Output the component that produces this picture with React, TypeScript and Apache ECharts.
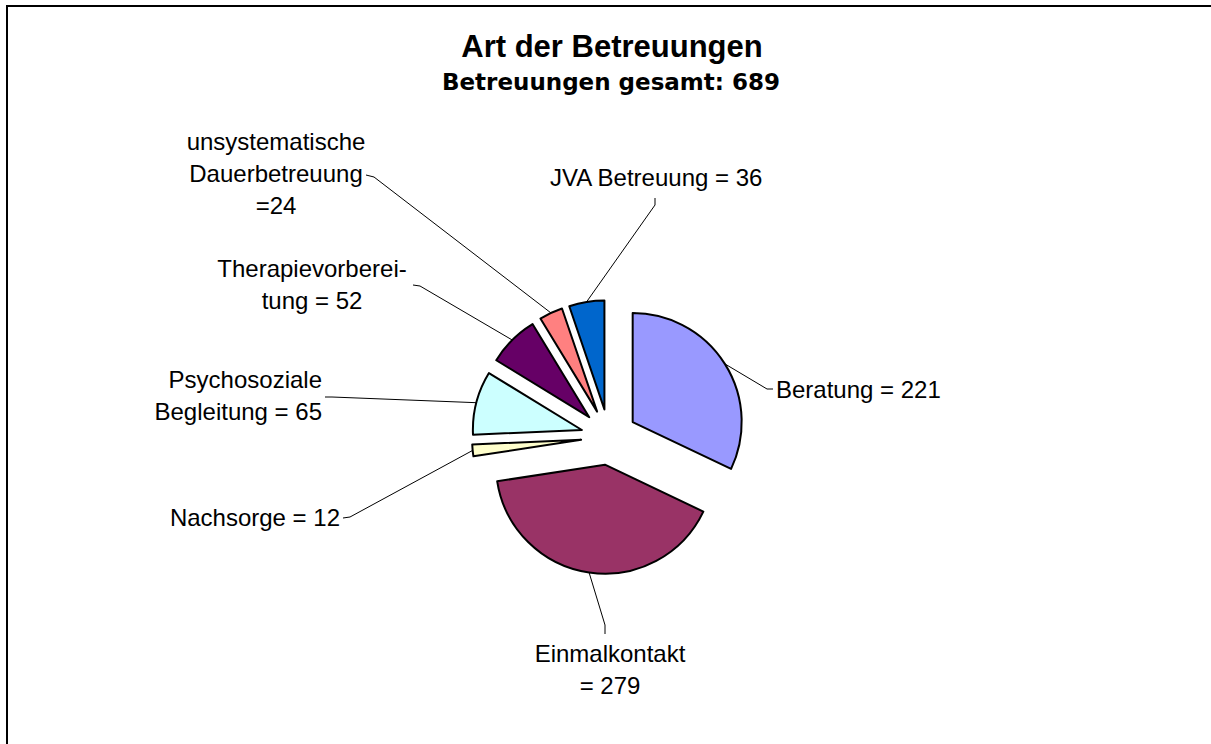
import React, { useEffect, useRef } from "react";
import * as echarts from "echarts";

const categories = [
  "Beratung",
  "Einmalkontakt",
  "Nachsorge",
  "Psychosoziale Begleitung",
  "Therapievorbereitung",
  "unsystematische Dauerbetreuung",
  "JVA Betreuung",
];
const values = [221, 279, 12, 65, 52, 24, 36];
const labelTexts = [
  "Beratung = 221",
  "Einmalkontakt\n= 279",
  "Nachsorge = 12",
  "Psychosoziale\nBegleitung = 65",
  "Therapievorberei-\ntung = 52",
  "unsystematische\nDauerbetreuung\n=24",
  "JVA Betreuung = 36",
];
const colors = ["#9999FF", "#993366", "#FFFFCC", "#CCFFFF", "#660066", "#FF8080", "#0066CC"];
const titleText = "Art der Betreuungen";
const subtitleText = "Betreuungen gesamt: 689";

// layout
const CX = 609;
const CY = 437;
const RADIUS = 109;
const OFFSET = 28;
type Spot = { x: number; y: number; align: string; elbow: number[]; end: number[] };
const labelSpots: Spot[] = [
  { x: 776, y: 389, align: "left", elbow: [767, 389], end: [773, 389] },
  { x: 610, y: 669, align: "center", elbow: [605, 625], end: [605, 634] },
  { x: 340, y: 517, align: "right", elbow: [350, 517], end: [343, 518] },
  { x: 322, y: 395, align: "right", elbow: [332, 397], end: [325, 397] },
  { x: 312, y: 284, align: "center", elbow: [420, 286], end: [413, 285] },
  { x: 276, y: 173, align: "center", elbow: [374, 177], end: [366, 175] },
  { x: 550, y: 177, align: "left", elbow: [655, 205], end: [655, 198] },
];

const FONT = '"Liberation Sans", Arial, sans-serif';

function App() {
  const ref = useRef<HTMLDivElement>(null);
  useEffect(() => {
    if (!ref.current) return;
    const chart = echarts.init(ref.current, null, { renderer: "svg" });
    const total = values.reduce((a, b) => a + b, 0);
    const dirs = values.map((v, i) => {
      let cum = 0;
      for (let j = 0; j < i; j++) cum += values[j];
      const a = ((cum + v / 2) / total) * Math.PI * 2;
      return [Math.sin(a), -Math.cos(a)];
    });
    const series = values.map((_, i) => {
      const cx = CX + OFFSET * dirs[i][0];
      const cy = CY + OFFSET * dirs[i][1];
      const arcPt = [cx + RADIUS * dirs[i][0], cy + RADIUS * dirs[i][1]];
      return {
        type: "pie",
        center: [cx, cy],
        radius: RADIUS,
        startAngle: 90,
        clockwise: true,
        avoidLabelOverlap: false,
        silent: true,
        emphasis: { disabled: true, scale: false },
        label: {
          color: "#000",
          fontSize: 24,
          fontFamily: FONT,
          lineHeight: 32,
          formatter: () => labelTexts[i],
        },
        labelLine: { lineStyle: { color: "#000", width: 1 } },
        labelLayout: (p: any) => {
          if (p.dataIndex !== i) return {};
          const s = labelSpots[i];
          return {
            x: s.x,
            y: s.y,
            align: s.align,
            verticalAlign: "middle",
            labelLinePoints: [arcPt, s.elbow, s.end],
          };
        },
        data: categories.map((name, j) => ({
          name,
          value: values[j],
          itemStyle:
            j === i
              ? { color: colors[j], borderColor: "#000", borderWidth: 2 }
              : { color: "rgba(0,0,0,0)", borderWidth: 0 },
          label: { show: j === i },
          labelLine: { show: j === i },
        })),
      };
    });
    chart.setOption({
      animation: false,
      backgroundColor: "#fff",
      graphic: [
        {
          type: "polyline",
          z: -10,
          shape: { points: [[7, 800], [7, 6], [1300, 6]] },
          style: { fill: "none", stroke: "#000", lineWidth: 2 },
        },
        {
          type: "text",
          x: 612,
          y: 46,
          style: {
            text: titleText,
            font: `bold 31px ${FONT}`,
            fill: "#000",
            align: "center",
            verticalAlign: "middle",
            textAlign: "center",
            textVerticalAlign: "middle",
          },
        },
        {
          type: "text",
          x: 611,
          y: 82,
          style: {
            text: subtitleText,
            font: 'bold 23px "DejaVu Sans", sans-serif',
            fill: "#000",
            align: "center",
            verticalAlign: "middle",
            textAlign: "center",
            textVerticalAlign: "middle",
          },
        },
      ],
      series,
    });
    return () => chart.dispose();
  }, []);
  return (
    <div
      ref={ref}
      style={{ position: "fixed", left: 0, top: 0, width: 1211, height: 744 }}
    />
  );
}

export default App;
